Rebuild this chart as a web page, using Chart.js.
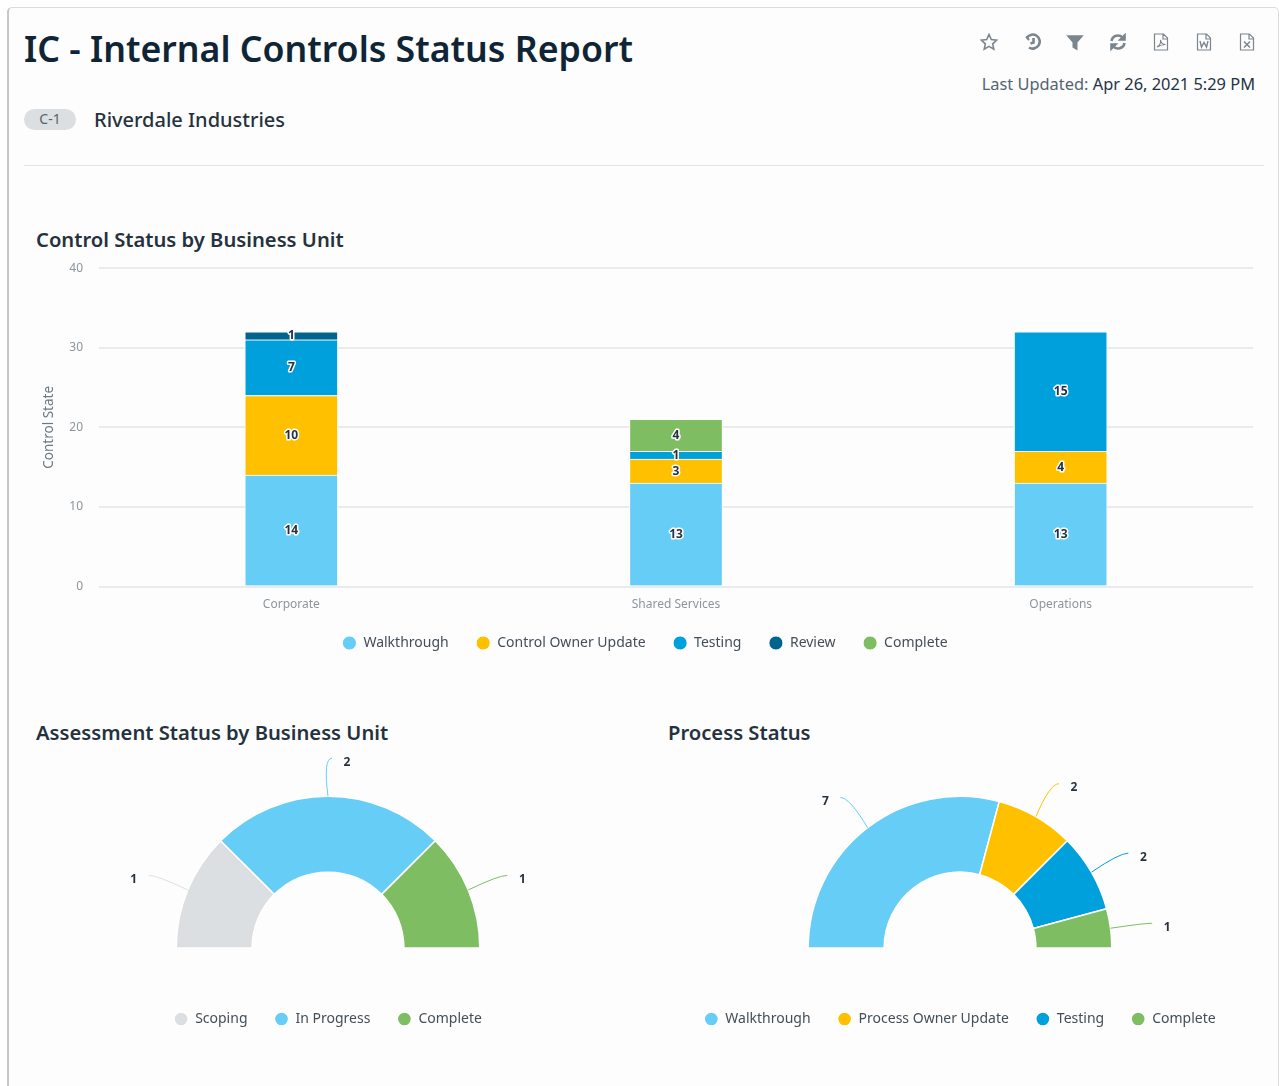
<!DOCTYPE html>
<html>
<head>
<meta charset="utf-8">
<title>IC - Internal Controls Status Report</title>
<script src="https://cdn.jsdelivr.net/npm/chart.js@4"></script>
<style>
  html, body { margin: 0; padding: 0; background: #fff; }
  body { width: 1279px; height: 1086px; position: relative; overflow: hidden; font-family: "Noto Sans", sans-serif; color: #12263a; }
  #card { position: absolute; left: 7px; top: 7px; width: 1269px; height: 1090px; background: #fdfdfd; border: 1px solid #d9dcde; border-left: 2px solid #c4c8cb; border-radius: 5px; }
  .abs { position: absolute; white-space: nowrap; }
  #titulo { left: 24px; top: 23px; font-size: 35.7px; font-weight: 600; line-height: 50px; color: #0f2536; }
  #actualizado { right: 24px; top: 73px; font-size: 16.4px; line-height: 22px; color: #1f3344; }
  #actualizado span { color: #55636f; }
  #badge { left: 24px; top: 109px; width: 52px; height: 21px; border-radius: 11px; background: #dcdfe2; color: #56636e; font-size: 14px; line-height: 20px; text-align: center; }
  #empresa { left: 94px; top: 106px; font-size: 20px; font-weight: 500; line-height: 27px; color: #25323e; }
  #linea { left: 24px; top: 165px; width: 1240px; height: 1px; background: #e3e5e7; }
  .sub { font-size: 20.2px; font-weight: 600; line-height: 27px; color: #25323e; }
  canvas { position: absolute; }
  #iconos svg { position: absolute; top: 33px; width: 18px; height: 18px; fill: none; stroke: #7b858e; stroke-width: 1.6; }
</style>
</head>
<body>
<div id="card"></div>
<div class="abs" id="titulo">IC - Internal Controls Status Report</div>
<div id="iconos">
  <svg style="left:980px" viewBox="0 0 18 18"><path d="M9 1.5l2.3 5 5.4.6-4 3.7 1.1 5.4L9 13.4l-4.8 2.8 1.1-5.4-4-3.7 5.4-.6z"/></svg>
  <svg style="left:1024px" viewBox="0 0 18 18"><path stroke-width="2.6" d="M3 4.5A7 7 0 1 1 5 14.5M9.5 5v4.5l-3 1"/><path stroke-width="2" d="M2 3.5L5 7"/></svg>
  <svg style="left:1066px" viewBox="0 0 18 18"><path fill="#7b858e" d="M2 3h14l-5.3 6.3V16l-3.4-2V9.300z"/></svg>
  <svg style="left:1109px" viewBox="0 0 18 18"><path stroke-width="2.6" d="M2.500 8A6.500 6.500 0 0 1 14 5M15.500 10A6.500 6.500 0 0 1 4 13"/><path fill="#7b858e" d="M16 1.500V7h-5.500zM2 16.500V11h5.500z"/></svg>
  <svg style="left:1152px" viewBox="0 0 18 18"><path d="M2.500 1h9l4 4v12h-13zM11 1v5h4.500M5 14c3-2 4-5 3.500-7 .5 3 2.500 4.500 5 4.500-3 0-6 1-8.500 2.500z" stroke-width="1.200"/></svg>
  <svg style="left:1195px" viewBox="0 0 18 18"><path d="M2.500 1h9l4 4v12h-13zM11 1v5h4.500" stroke-width="1.200"/><path d="M5 8l1.500 6L9 9.500l2.500 4.500L13 8" stroke-width="1.400"/></svg>
  <svg style="left:1238px" viewBox="0 0 18 18"><path d="M2.500 1h9l4 4v12h-13zM11 1v5h4.500" stroke-width="1.200"/><path d="M6 8.500l6 6M12 8.500l-6 6" stroke-width="1.500"/></svg>
</div>
<div class="abs" id="actualizado"><span>Last Updated:</span> Apr 26, 2021 5:29 PM</div>
<div class="abs" id="badge">C-1</div>
<div class="abs" id="empresa">Riverdale Industries</div>
<div class="abs" id="linea"></div>
<div class="abs sub" style="left:36px;top:226px">Control Status by Business Unit</div>
<div class="abs sub" style="left:36px;top:719px">Assessment Status by Business Unit</div>
<div class="abs sub" style="left:668px;top:719px">Process Status</div>

<canvas id="graficoControl" style="left:24px;top:245px" width="1240" height="419"></canvas>
<canvas id="graficoEvaluacion" style="left:36px;top:750px" width="584" height="286"></canvas>
<canvas id="graficoProceso" style="left:668px;top:750px" width="584" height="286"></canvas>

<script>
  // Datos
  const unidades = ["Corporate", "Shared Services", "Operations"];
  const walkthrough = [14, 13, 13];
  const controlOwnerUpdate = [10, 3, 4];
  const testing = [7, 1, 15];
  const review = [1, 0, 0];
  const complete = [0, 4, 0];

  const etiquetasEvaluacion = ["Scoping", "In Progress", "Complete"];
  const valoresEvaluacion = [1, 2, 1];

  const etiquetasProceso = ["Walkthrough", "Process Owner Update", "Testing", "Complete"];
  const valoresProceso = [7, 2, 2, 1];

  const azulClaro = "#66cdf7";
  const amarillo = "#ffc000";
  const azul = "#00a0dc";
  const azulOscuro = "#00648f";
  const verde = "#7fbd62";
  const gris = "#dcdfe1";

  const fuente = '"Noto Sans", sans-serif';
  Chart.defaults.font.family = fuente;
  Chart.defaults.animation = false;
  Chart.defaults.responsive = false;

  // Numeros con halo blanco dentro de cada segmento
  const etiquetasBarras = {
    id: "etiquetasBarras",
    afterDatasetsDraw(chart) {
      const ctx = chart.ctx;
      ctx.save();
      ctx.font = "bold 12px " + fuente;
      ctx.textAlign = "center";
      ctx.textBaseline = "middle";
      ctx.lineJoin = "round";
      chart.data.datasets.forEach((ds, i) => {
        chart.getDatasetMeta(i).data.forEach((barra, j) => {
          if (!ds.data[j]) return;
          const p = barra.getCenterPoint();
          ctx.lineWidth = 3;
          ctx.strokeStyle = "#fff";
          ctx.strokeText(ds.data[j], p.x, p.y);
          ctx.fillStyle = "#26333f";
          ctx.fillText(ds.data[j], p.x, p.y);
        });
      });
      ctx.restore();
    },
  };

  // Lineas curvas y valores por fuera de los arcos
  const conectores = {
    id: "conectores",
    afterDatasetsDraw(chart) {
      const ctx = chart.ctx;
      const ds = chart.data.datasets[0];
      ctx.save();
      ctx.font = "bold 12px " + fuente;
      ctx.textBaseline = "middle";
      ctx.textAlign = "center";
      chart.getDatasetMeta(0).data.forEach((arco, i) => {
        const medio = (arco.startAngle + arco.endAngle) / 2;
        const dx = Math.cos(medio);
        const dy = Math.sin(medio);
        const lado = dx < -0.01 ? -1 : 1;
        const x0 = arco.x + arco.outerRadius * dx;
        const y0 = arco.y + arco.outerRadius * dy;
        const x1 = x0 + 38 * dx + 4 * lado;
        const y1 = y0 + 38 * dy;
        ctx.beginPath();
        ctx.moveTo(x0, y0);
        ctx.quadraticCurveTo(x1 - 9 * lado, y1, x1, y1);
        ctx.strokeStyle = ds.backgroundColor[i];
        ctx.lineWidth = 1;
        ctx.stroke();
        ctx.fillStyle = "#26333f";
        ctx.fillText(ds.data[i], x1 + 15 * lado, y1 + 4);
      });
      ctx.restore();
    },
  };

  // La leyenda de barras queda un poco mas arriba y centrada
  const moverLeyenda = {
    id: "moverLeyenda",
    afterLayout(chart) {
      chart.legend.top -= 4;
      chart.legend.left -= 2;
      chart.legend.right -= 2;
    },
  };

  const leyenda = (tituloAlto, separacion) => ({
    position: "bottom",
    title: { display: tituloAlto > 0, text: " ", padding: { top: tituloAlto, bottom: 0 }, font: { size: 1 } },
    labels: {
      usePointStyle: true,
      pointStyle: "circle",
      boxWidth: 14,
      boxHeight: 10,
      padding: separacion,
      color: "#434e59",
      font: { size: 14 },
    },
  });

  const serie = (label, data, color) => ({
    label,
    data,
    backgroundColor: color,
    borderColor: "#ffffff",
    borderWidth: 1,
    barThickness: 93,
    stack: "a",
  });

  new Chart(document.getElementById("graficoControl"), {
    type: "bar",
    data: {
      labels: unidades,
      datasets: [
        serie("Walkthrough", walkthrough, azulClaro),
        serie("Control Owner Update", controlOwnerUpdate, amarillo),
        serie("Testing", testing, azul),
        serie("Review", review, azulOscuro),
        serie("Complete", complete, verde),
      ],
    },
    options: {
      layout: { padding: { top: 2, right: 11, left: 17, bottom: 0 } },
      plugins: { legend: leyenda(0, 27.5), tooltip: { enabled: false } },
      scales: {
        x: {
          stacked: true,
          grid: { display: false, drawTicks: false },
          border: { display: false },
          ticks: { color: "#8d959c", font: { size: 12 }, padding: 11 },
          afterFit(scale) { scale.height = 26; },
        },
        y: {
          stacked: true,
          min: 0,
          max: 40,
          grid: { color: "#e9ebec", lineWidth: 2, drawTicks: false },
          border: { display: false },
          ticks: { stepSize: 10, color: "#8d959c", font: { size: 12 }, padding: 16 },
          title: { display: true, text: "Control State", color: "#6d7780", font: { size: 13.5 }, padding: 0 },
          afterFit(scale) { scale.width = 58; },
        },
      },
    },
    plugins: [etiquetasBarras, moverLeyenda],
  });

  const semicirculo = (id, labels, data, colores) =>
    new Chart(document.getElementById(id), {
      type: "doughnut",
      data: {
        labels,
        datasets: [{ data, backgroundColor: colores, borderColor: "#ffffff", borderWidth: 1.5 }],
      },
      options: {
        rotation: -90,
        circumference: 180,
        cutout: "50%",
        layout: { padding: { top: 45.5 } },
        plugins: { legend: leyenda(35, 27), tooltip: { enabled: false } },
      },
      plugins: [conectores],
    });

  semicirculo("graficoEvaluacion", etiquetasEvaluacion, valoresEvaluacion, [gris, azulClaro, verde]);
  semicirculo("graficoProceso", etiquetasProceso, valoresProceso, [azulClaro, amarillo, azul, verde]);
</script>
</body>
</html>
